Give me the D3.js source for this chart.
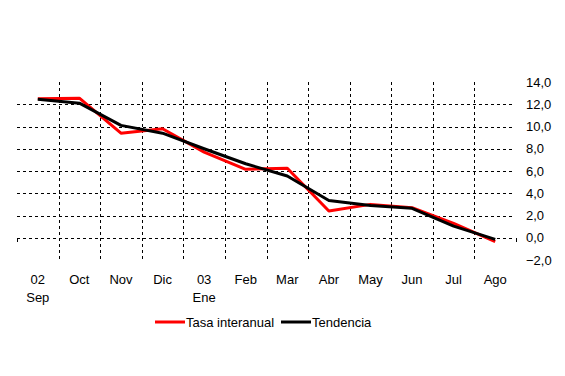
<!DOCTYPE html>
<html>
<head>
<meta charset="utf-8">
<script src="https://cdn.jsdelivr.net/npm/d3@7"></script>
<style>
  body { margin: 0; background: #fff; }
  svg { display: block; }
</style>
</head>
<body>
<div id="chart"></div>
<script>
const months = ["Sep", "Oct", "Nov", "Dic", "Ene", "Feb", "Mar", "Abr", "May", "Jun", "Jul", "Ago"];
const yearLabels = { "Sep": "02", "Ene": "03" };
const tasa = [12.5, 12.55, 9.4, 9.8, 7.7, 6.15, 6.25, 2.4, 3.0, 2.7, 1.3, -0.35];
const tendencia = [12.45, 12.1, 10.1, 9.4, 8.0, 6.65, 5.55, 3.35, 2.9, 2.65, 1.05, -0.15];
const yTicks = [-2, 0, 2, 4, 6, 8, 10, 12, 14];

const width = 565, height = 376;
const font = "'Liberation Sans', Arial, sans-serif";

const svg = d3.select("#chart")
    .append("svg")
    .attr("width", width)
    .attr("height", height)
    .style("font-family", font);

const x = d3.scaleBand()
    .domain(months)
    .range([17, 516])
    .padding(0);

const y = d3.scaleLinear()
    .domain([-2, 14])
    .range([260, 82]);

const cx = d => x(d) + x.bandwidth() / 2;

// horizontal gridlines (not at the plot edges)
svg.append("g")
    .selectAll("line")
    .data(yTicks.filter(t => t > -2 && t < 14))
    .enter()
    .append("line")
    .attr("x1", x.range()[0])
    .attr("x2", x.range()[1] - 4)
    .attr("y1", d => Math.round(y(d)) + 0.5)
    .attr("y2", d => Math.round(y(d)) + 0.5)
    .attr("stroke", "#000")
    .attr("stroke-width", 1)
    .attr("stroke-dasharray", "3,3");

// vertical gridlines at category boundaries
svg.append("g")
    .selectAll("line")
    .data(months.slice(1))
    .enter()
    .append("line")
    .attr("x1", d => Math.round(x(d)) + 0.5)
    .attr("x2", d => Math.round(x(d)) + 0.5)
    .attr("y1", y(14))
    .attr("y2", y(-2))
    .attr("stroke", "#000")
    .attr("stroke-width", 1)
    .attr("stroke-dasharray", "3,3");

// small end ticks on the zero line
svg.append("g")
    .selectAll("line")
    .data(x.range())
    .enter()
    .append("line")
    .attr("x1", d => d + 0.5)
    .attr("x2", d => d + 0.5)
    .attr("y1", Math.round(y(0)))
    .attr("y2", Math.round(y(0)) + 4)
    .attr("stroke", "#000");

// y labels on the right
svg.append("g")
    .selectAll("text")
    .data(yTicks)
    .enter()
    .append("text")
    .attr("x", 526)
    .attr("y", d => y(d))
    .attr("dy", "0.35em")
    .style("font-size", "13px")
    .text(d => d3.format(".1f")(d).replace(".", ","));

// x labels
const xl = svg.append("g")
    .selectAll("text")
    .data(months)
    .enter()
    .append("text")
    .attr("x", d => cx(d))
    .attr("y", 284)
    .attr("text-anchor", "middle")
    .style("font-size", "13px");

xl.append("tspan")
    .attr("x", d => cx(d))
    .text(d => yearLabels[d] || d);

xl.filter(d => yearLabels[d])
    .append("tspan")
    .attr("x", d => cx(d))
    .attr("dy", 18)
    .text(d => d);

const line = d3.line()
    .x((d, i) => cx(months[i]))
    .y(d => y(d));

svg.append("path")
    .datum(tasa)
    .attr("d", line)
    .attr("fill", "none")
    .attr("stroke", "#ff0000")
    .attr("stroke-width", 3)
    .attr("stroke-linejoin", "round");

svg.append("path")
    .datum(tendencia)
    .attr("d", line)
    .attr("fill", "none")
    .attr("stroke", "#000")
    .attr("stroke-width", 3)
    .attr("stroke-linejoin", "round");

// legend
const legend = [
    { name: "Tasa interanual", color: "#ff0000", x: 155 },
    { name: "Tendencia", color: "#000", x: 281 }
];

const lg = svg.append("g")
    .selectAll("g")
    .data(legend)
    .enter()
    .append("g")
    .attr("transform", d => `translate(${d.x}, 322)`);

lg.append("line")
    .attr("x1", 0)
    .attr("x2", 30)
    .attr("stroke", d => d.color)
    .attr("stroke-width", 3);

lg.append("text")
    .attr("x", 31)
    .attr("dy", "0.35em")
    .style("font-size", "13px")
    .text(d => d.name);
</script>
</body>
</html>
